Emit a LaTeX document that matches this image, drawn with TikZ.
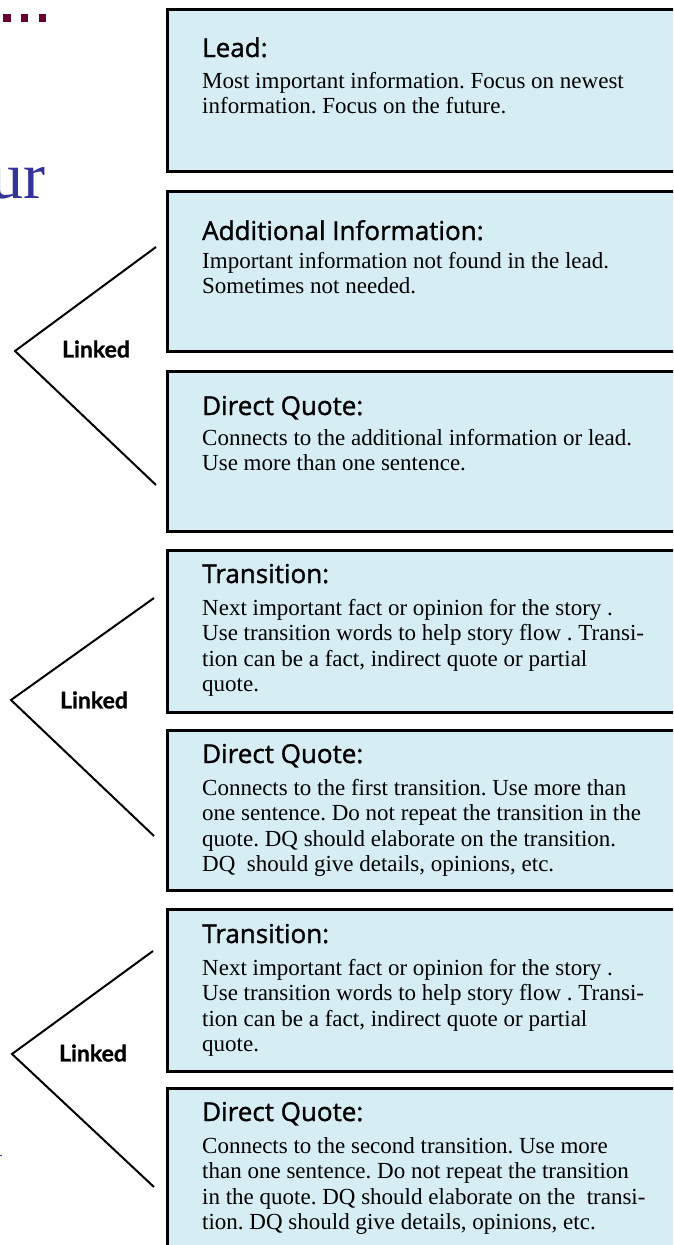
\documentclass[tikz,border=0pt]{standalone}
\usepackage{fontspec}
\setmainfont{Liberation Serif}
\newfontfamily\headfont{Open Sans}[FakeBold=1.3]
\newfontfamily\linkfont{Lato}[BoldFeatures={FakeBold=1}]
\definecolor{boxfill}{RGB}{214,237,243}
\definecolor{titleblue}{RGB}{51,51,153}
\definecolor{dotpurple}{RGB}{102,0,51}
\newcommand{\bodytext}[1]{\parbox[t]{480pt}{\fontsize{23}{25.5}\selectfont\frenchspacing\raggedright #1}}
\begin{document}
\begin{tikzpicture}[x=1pt,y=-1pt,
  box/.style={draw=black, line width=3pt, fill=boxfill, rectangle, anchor=north west,
    minimum width=560pt, minimum height=#1, inner sep=0pt},
  head/.style={anchor=base west, inner sep=0pt, font=\headfont\fontsize{26}{28}\selectfont},
  body/.style={anchor=base west, inner sep=0pt},
  link/.style={font=\linkfont\bfseries\fontsize{23}{26}\selectfont, inner sep=0pt},
  chev/.style={line width=2pt, line join=miter},
  sq/.style={fill=dotpurple, draw=none}]
\useasboundingbox (0,0) rectangle (673,1245);
\clip (0,0) rectangle (673,1245);

% fragments at the left edge
\fill[sq] (3.3,14) rectangle (10.7,22.3);
\fill[sq] (21,14) rectangle (28.3,22.3);
\fill[sq] (39,14) rectangle (46.3,22.3);
\node[anchor=base east, inner sep=0pt, text=titleblue, font=\fontsize{66}{70}\selectfont] (ur) at (46,198) {ur};
\draw[titleblue, line width=1pt] (0,1155) -- (1.5,1155);

% boxes
\node[box=162pt] (b1) at (165.5,7.5) {};
\node[box=160pt] (b2) at (165.5,189.5) {};
\node[box=160.5pt] (b3) at (165.5,369.5) {};
\node[box=162pt] (b4) at (165.5,548.5) {};
\node[box=160.5pt] (b5) at (165.5,728.5) {};
\node[box=161.5pt] (b6) at (165.5,908) {};
\node[box=180pt] (b7) at (165.5,1086.5) {};

% texts
\node[head] (h1) at (202,57) {Lead:};
\node[body] (t1) at (202,88) {\bodytext{Most important information. Focus on newest\\information. Focus on the future.}};

\node[head] (h2) at (202,240) {Additional Information:};
\node[body] (t2) at (202,268) {\bodytext{Important information not found in the lead.\\Sometimes not needed.}};

\node[head] (h3) at (202,415) {Direct Quote:};
\node[body] (t3) at (202,445) {\bodytext{Connects to the additional information or lead.\\Use more than one sentence.}};

\node[head] (h4) at (202,583) {Transition:};
\node[body] (t4) at (202,615) {\bodytext{Next important fact or opinion for the story .\\Use transition words to help story flow . Transi-\\tion can be a fact, indirect quote or partial\\quote.}};

\node[head] (h5) at (202,763) {Direct Quote:};
\node[body] (t5) at (202,795) {\bodytext{Connects to the first transition. Use more than\\one sentence. Do not repeat the transition in the\\quote. DQ should elaborate on the transition.\\DQ\ \ should give details, opinions, etc.}};

\node[head] (h6) at (202,943) {Transition:};
\node[body] (t6) at (202,975) {\bodytext{Next important fact or opinion for the story .\\Use transition words to help story flow . Transi-\\tion can be a fact, indirect quote or partial\\quote.}};

\node[head] (h7) at (202,1121) {Direct Quote:};
\node[body] (t7) at (202,1153) {\bodytext{Connects to the second transition. Use more\\than one sentence. Do not repeat the transition\\in the quote. DQ should elaborate on the\ \ transi-\\tion. DQ should give details, opinions, etc.}};

% chevrons
\coordinate (c1t) at (156,247);
\coordinate (c1a) at (15,351);
\coordinate (c1b) at (156,485);
\coordinate (c2t) at (154,598);
\coordinate (c2a) at (11,700);
\coordinate (c2b) at (154,836);
\coordinate (c3t) at (153,951);
\coordinate (c3a) at (12,1054);
\coordinate (c3b) at (154,1187);
\draw[chev] (c1t) -- (c1a) -- (c1b);
\draw[chev] (c2t) -- (c2a) -- (c2b);
\draw[chev] (c3t) -- (c3a) -- (c3b);
\node[link] (l1) at (96,349) {Linked};
\node[link] (l2) at (94,700) {Linked};
\node[link] (l3) at (93,1053) {Linked};
\end{tikzpicture}
\end{document}
